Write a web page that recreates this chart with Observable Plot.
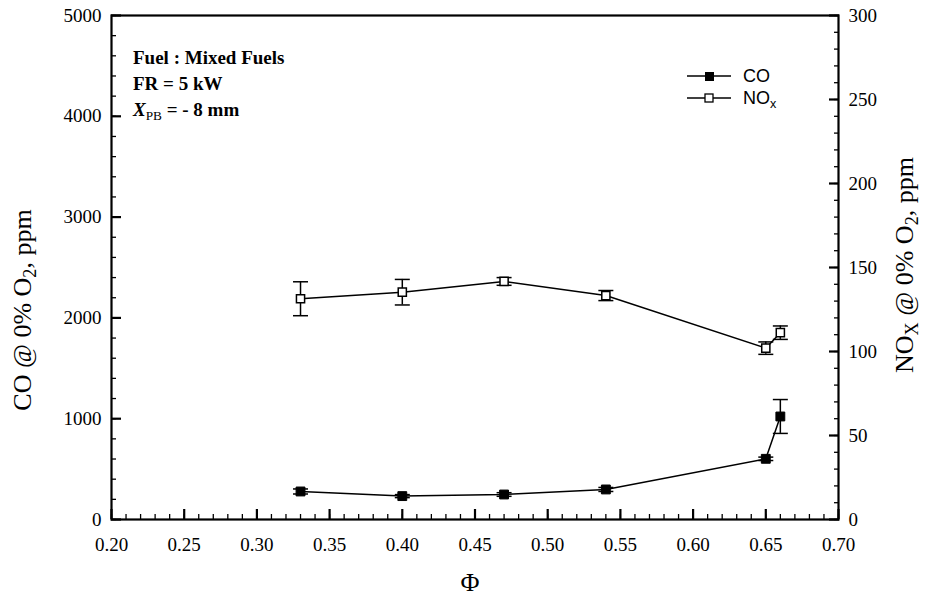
<!DOCTYPE html>
<html>
<head>
<meta charset="utf-8">
<script src="https://cdn.jsdelivr.net/npm/d3@7"></script>
<script src="https://cdn.jsdelivr.net/npm/@observablehq/plot@0.6"></script>
<style>
  html, body { margin: 0; padding: 0; background: #fff; }
  #wrap { position: relative; width: 926px; height: 597px; font-family: "Liberation Serif", serif; color: #000; }
  .ann { position: absolute; font-weight: bold; font-size: 19px; white-space: nowrap; line-height: 1; }
  .ytitle { position: absolute; font-size: 26px; white-space: nowrap; transform-origin: center center; line-height: 1; }
  .leg { position: absolute; font-family: "Liberation Sans", sans-serif; font-size: 18px; white-space: nowrap; line-height: 1; }
  sub { font-size: 70%; vertical-align: -0.3em; line-height: 0; }
</style>
</head>
<body>
<div id="wrap"></div>
<script>
// ---- data ----
const phi    = [0.33, 0.40, 0.47, 0.54, 0.65, 0.66];
const co     = [278, 232, 248, 298, 602, 1022];
const coErr  = [25, 15, 18, 20, 17, 168];
const nox    = [131.4, 135.3, 141.7, 133.3, 102.0, 111.2];
const noxErr = [10.1, 7.6, 2.3, 3.0, 3.7, 4.0];

const xTicks    = [0.20, 0.25, 0.30, 0.35, 0.40, 0.45, 0.50, 0.55, 0.60, 0.65, 0.70];
const coTicks   = [0, 1000, 2000, 3000, 4000, 5000];
const noxTicks  = [0, 50, 100, 150, 200, 250, 300];

const xMinor   = d3.range(0, 51).map(i => 0.20 + i * 0.01);
const coMinor  = d3.range(0, 26).map(i => i * 200);
const noxMinor = d3.range(0, 31).map(i => i * 10);

const k = 5000 / 300; // NOx -> CO scale factor
const rows = phi.map((p, i) => ({
  phi: p, co: co[i], coErr: coErr[i], nox: nox[i] * k, noxErr: noxErr[i] * k
}));

const cap = { draw(ctx) { ctx.moveTo(-7.5, 0); ctx.lineTo(7.5, 0); } };

const chart = Plot.plot({
  width: 926,
  height: 597,
  marginLeft: 111,
  marginRight: 88,
  marginTop: 15,
  marginBottom: 78,
  style: { fontFamily: "Liberation Serif, serif", fontSize: "19px", color: "#000", background: "#fff" },
  x: { domain: [0.2, 0.7] },
  y: { domain: [0, 5000] },
  marks: [
    // x axis
    Plot.axisX({ ticks: xMinor, tickSize: -5, tickFormat: () => "", label: null, strokeWidth: 1.3 }),
    Plot.axisX({ ticks: xTicks, tickSize: -10, tickFormat: () => "", label: null, strokeWidth: 2.2 }),
    Plot.axisX({ ticks: xTicks, tickSize: 0, tickPadding: 18, tickFormat: d => d.toFixed(2), label: null }),
    // left axis
    Plot.axisY({ anchor: "left", ticks: coMinor, tickSize: -5, tickFormat: () => "", label: null, strokeWidth: 1.3 }),
    Plot.axisY({ anchor: "left", ticks: coTicks, tickSize: -10, tickFormat: () => "", label: null, strokeWidth: 2.2 }),
    Plot.axisY({ anchor: "left", ticks: coTicks, tickSize: 0, tickPadding: 10, tickFormat: d => String(d), label: null }),
    // right axis (NOx)
    Plot.axisY({ anchor: "right", ticks: noxMinor.map(v => v * k), tickSize: -5, tickFormat: () => "", label: null, strokeWidth: 1.3 }),
    Plot.axisY({ anchor: "right", ticks: noxTicks.map(v => v * k), tickSize: -10, tickFormat: () => "", label: null, strokeWidth: 2.2 }),
    Plot.axisY({ anchor: "right", ticks: noxTicks.map(v => v * k), tickSize: 0, tickPadding: 10, tickFormat: d => String(Math.round(d / k)), label: null }),
    Plot.frame({ stroke: "#000", strokeWidth: 2.2 }),
    // CO series
    Plot.ruleX(rows, { x: "phi", y1: d => d.co - d.coErr, y2: d => d.co + d.coErr, stroke: "#000", strokeWidth: 1.5 }),
    Plot.dot(rows, { x: "phi", y: d => d.co + d.coErr, symbol: cap, stroke: "#000", strokeWidth: 1.5 }),
    Plot.dot(rows, { x: "phi", y: d => d.co - d.coErr, symbol: cap, stroke: "#000", strokeWidth: 1.5 }),
    Plot.line(rows, { x: "phi", y: "co", stroke: "#000", strokeWidth: 1.5 }),
    Plot.dot(rows, { x: "phi", y: "co", symbol: "square", r: 5, fill: "#000", stroke: "#000", strokeWidth: 1 }),
    // NOx series
    Plot.ruleX(rows, { x: "phi", y1: d => d.nox - d.noxErr, y2: d => d.nox + d.noxErr, stroke: "#000", strokeWidth: 1.5 }),
    Plot.dot(rows, { x: "phi", y: d => d.nox + d.noxErr, symbol: cap, stroke: "#000", strokeWidth: 1.5 }),
    Plot.dot(rows, { x: "phi", y: d => d.nox - d.noxErr, symbol: cap, stroke: "#000", strokeWidth: 1.5 }),
    Plot.line(rows, { x: "phi", y: "nox", stroke: "#000", strokeWidth: 1.5 }),
    Plot.dot(rows, { x: "phi", y: "nox", symbol: "square", r: 4.6, fill: "#fff", stroke: "#000", strokeWidth: 1.5 })
  ]
});

const wrap = document.getElementById("wrap");
wrap.appendChild(chart);

function addDiv(cls, html, css) {
  const d = document.createElement("div");
  d.className = cls;
  d.innerHTML = html;
  Object.assign(d.style, css);
  wrap.appendChild(d);
  return d;
}

function centerAt(d, cx, cy, rotate) {
  d.style.left = (cx - d.offsetWidth / 2) + "px";
  d.style.top = (cy - d.offsetHeight / 2) + "px";
  if (rotate) d.style.transform = "rotate(-90deg)";
}

// annotations
addDiv("ann", "Fuel : Mixed Fuels", { left: "133px", top: "48px" });
addDiv("ann", "FR = 5 kW", { left: "133px", top: "74px" });
addDiv("ann", "<i>X</i><sub style='font-weight:normal'>PB</sub> = - 8 mm", { left: "133px", top: "100px" });

// x title
centerAt(addDiv("ytitle", "&Phi;", {}), 470, 583, false);

// y titles
centerAt(addDiv("ytitle", "CO @ 0% O<sub>2</sub>, ppm", {}), 22, 310, true);
centerAt(addDiv("ytitle", "NO<sub>X</sub> @ 0% O<sub>2</sub>, ppm", {}), 905, 265, true);

// legend
const legSvg = document.createElementNS("http://www.w3.org/2000/svg", "svg");
legSvg.setAttribute("width", "60");
legSvg.setAttribute("height", "50");
legSvg.style.position = "absolute";
legSvg.style.left = "684px";
legSvg.style.top = "65px";
legSvg.innerHTML =
  '<line x1="3" y1="11" x2="47" y2="11" stroke="#000" stroke-width="1.5"/>' +
  '<rect x="21" y="7" width="9" height="9" fill="#000"/>' +
  '<line x1="3" y1="33" x2="47" y2="33" stroke="#000" stroke-width="1.5"/>' +
  '<rect x="21" y="29" width="8" height="8" fill="#fff" stroke="#000" stroke-width="1.3"/>';
wrap.appendChild(legSvg);
addDiv("leg", "CO", { left: "743px", top: "67px" });
addDiv("leg", "NO<sub>x</sub>", { left: "743px", top: "89px" });
</script>
</body>
</html>
